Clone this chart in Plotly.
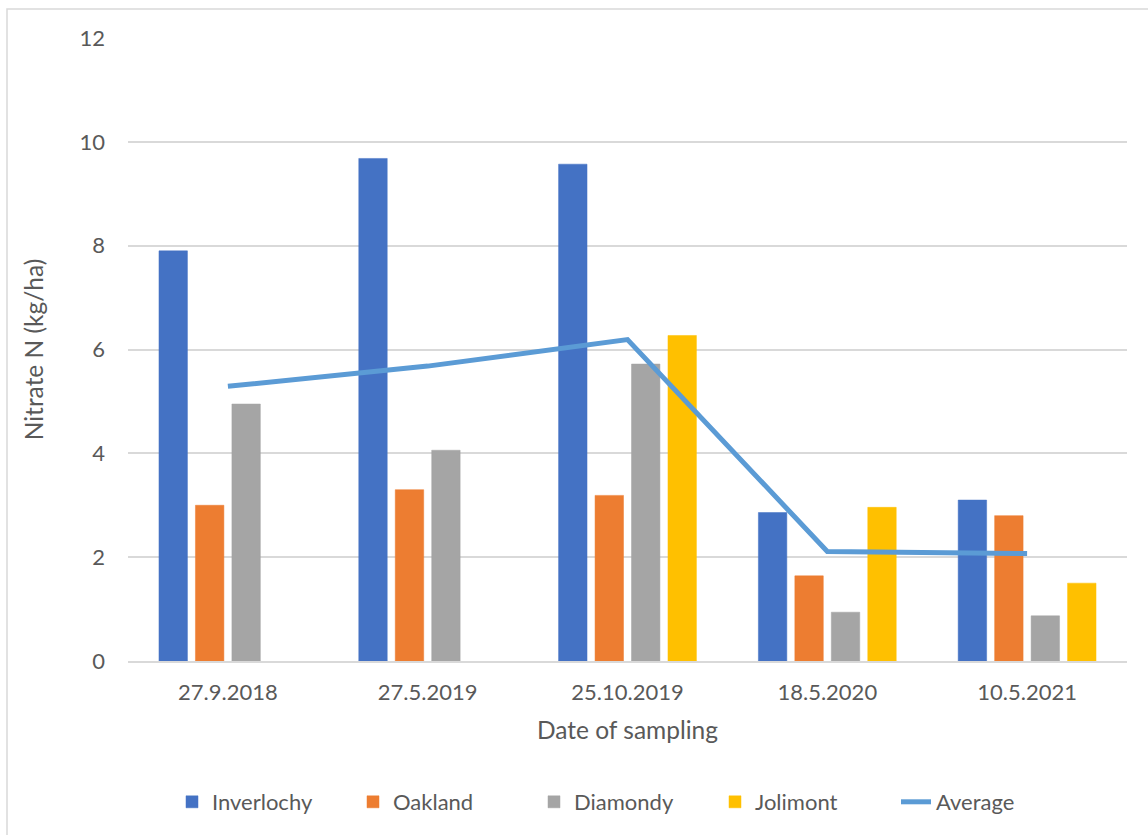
import plotly.graph_objects as go

# Sampling dates (categories)
dates = ["27.9.2018", "27.5.2019", "25.10.2019", "18.5.2020", "10.5.2021"]

# Nitrate N (kg/ha) per site; None where a site was not sampled
inverlochy = [7.9, 9.68, 9.57, 2.86, 3.1]
oakland = [3.0, 3.3, 3.19, 1.64, 2.8]
diamondy = [4.95, 4.06, 5.72, 0.94, 0.87]
jolimont = [None, None, 6.27, 2.96, 1.5]
average = [5.29, 5.68, 6.19, 2.11, 2.07]

y_ticks = [0, 2, 4, 6, 8, 10, 12]

FONT = "Lato"
TXT = "#595959"
GRID = "#D9D9D9"

fig = go.Figure()
series = [
    ("Inverlochy", inverlochy, "#4472C4"),
    ("Oakland", oakland, "#ED7D31"),
    ("Diamondy", diamondy, "#A5A5A5"),
    ("Jolimont", jolimont, "#FFC000"),
]
for name, vals, col in series:
    fig.add_trace(go.Bar(
        x=dates, y=vals, name=name,
        marker=dict(color=col, line=dict(color=col, width=0.5)),
    ))

fig.add_trace(go.Scatter(
    x=dates, y=average, name="Average", mode="lines",
    line=dict(color="#5B9BD5", width=5),
))

W, H = 1148, 835
L, R, T, B = 128, 21, 38, 174
pw, ph = W - L - R, H - T - B

def px_x(p):
    return (p - L) / pw

def px_y(p):
    return (H - B - p) / ph

fig.update_layout(
    width=W, height=H,
    margin=dict(l=L, r=R, t=T, b=B, autoexpand=False),
    paper_bgcolor="white", plot_bgcolor="white",
    font=dict(family=FONT, color=TXT, size=22),
    barmode="group", bargap=0.27, bargroupgap=0.22,
    showlegend=True,
    legend=dict(
        orientation="h", x=px_x(172), xanchor="left",
        y=px_y(802), yanchor="middle",
        font=dict(size=22, color=TXT), traceorder="normal",
        itemwidth=30, entrywidth=136, entrywidthmode="pixels",
    ),
    xaxis=dict(
        showgrid=False, showline=True, linecolor=GRID, linewidth=1.5,
        ticks="", ticklabelstandoff=11,
        title=dict(text="Date of sampling", font=dict(size=24.5, color=TXT), standoff=18),
    ),
    yaxis=dict(
        range=[0, 12], tickvals=y_ticks, showgrid=True, gridcolor=GRID, gridwidth=1.5,
        zeroline=False, showline=False, ticks="", ticklabelstandoff=22,
        title=dict(text="Nitrate N (kg/ha)", font=dict(size=24.5, color=TXT), standoff=28),
    ),
    shapes=[dict(
        type="rect", xref="paper", yref="paper",
        x0=px_x(7), x1=px_x(1155), y0=px_y(845), y1=px_y(9),
        line=dict(color="#D9D9D9", width=1.5), fillcolor="rgba(0,0,0,0)", layer="below",
    )],
)

fig.write_html("out.html")
